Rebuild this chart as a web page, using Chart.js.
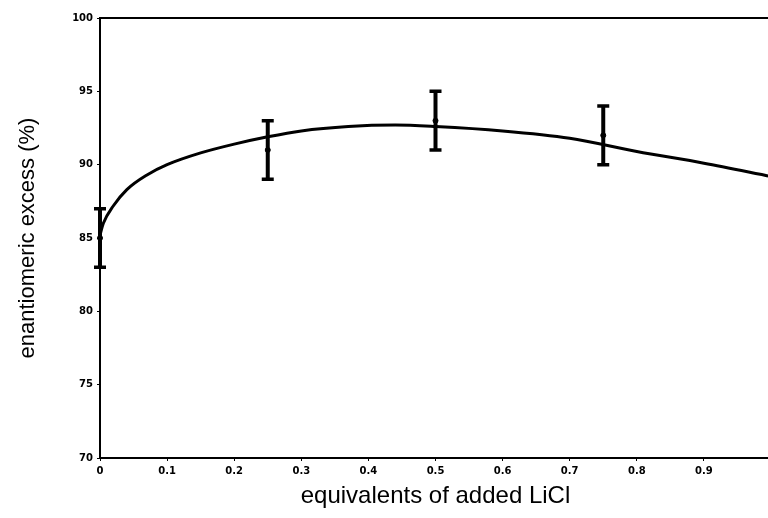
<!DOCTYPE html>
<html>
<head>
<meta charset="utf-8">
<script src="https://cdn.jsdelivr.net/npm/chart.js@4"></script>
<style>
  html, body { margin: 0; padding: 0; background: #fff; overflow: hidden; }
  #box { width: 776px; height: 518px; }
</style>
</head>
<body>
<div id="box"><canvas id="eeChart"></canvas></div>
<script>
// measured points with error bars
var licl = [0, 0.25, 0.5, 0.75];
var eeMean = [85, 91, 93, 92];
var eeLow = [83, 89, 91, 90];
var eeHigh = [87, 93, 95, 94];

// fitted curve
var fitX = [0, 0.005, 0.02, 0.04, 0.07, 0.1, 0.15, 0.2, 0.25, 0.3, 0.37, 0.44, 0.5, 0.6, 0.7, 0.8, 0.9, 1.0];
var fitY = [85.2, 86.0, 87.2, 88.3, 89.3, 90.0, 90.8, 91.4, 91.9, 92.3, 92.6, 92.7, 92.6, 92.3, 91.8, 90.9, 90.1, 89.2];

var yTicks = [70, 75, 80, 85, 90, 95, 100];
var xTicks = [0, 0.1, 0.2, 0.3, 0.4, 0.5, 0.6, 0.7, 0.8, 0.9];

var tickFont = { family: 'DejaVu Sans', size: 10, weight: 'bold' };

// error bars + frame, drawn through the chart scales
var errorBars = {
    id: 'errorBars',
    afterDatasetsDraw: function(chart) {
        var c = chart.ctx, xs = chart.scales.x, ys = chart.scales.y;
        var a = chart.chartArea;
        c.save();
        c.strokeStyle = '#000';
        c.lineWidth = 2;
        c.beginPath();
        c.moveTo(a.left, a.bottom);
        c.lineTo(a.left, a.top);
        c.lineTo(a.right, a.top);
        c.stroke();
        for (var i = 0; i < licl.length; i++) {
            var px = xs.getPixelForValue(licl[i]);
            var top = ys.getPixelForValue(eeHigh[i]);
            var bot = ys.getPixelForValue(eeLow[i]);
            c.lineWidth = 4;
            c.beginPath();
            c.moveTo(px, top);
            c.lineTo(px, bot);
            c.stroke();
            c.lineWidth = 3.5;
            c.beginPath();
            c.moveTo(px - 6, top); c.lineTo(px + 6, top);
            c.moveTo(px - 6, bot); c.lineTo(px + 6, bot);
            c.stroke();
        }
        c.restore();
    }
};

var ctx = document.getElementById('eeChart');

var eeChart = new Chart(ctx, {
    type: 'scatter',
    data: {
        datasets: [{
            label: 'fit',
            data: fitX.map(function(x, i) { return { x: x, y: fitY[i] }; }),
            showLine: true,
            borderColor: '#000',
            borderWidth: 3,
            pointRadius: 0,
            cubicInterpolationMode: 'monotone',
            fill: false
        }, {
            label: 'measured',
            data: licl.map(function(x, i) { return { x: x, y: eeMean[i] }; }),
            backgroundColor: '#000',
            borderColor: '#000',
            pointRadius: 2.5
        }]
    },
    options: {
        responsive: true,
        maintainAspectRatio: false,
        animation: false,
        clip: false,
        layout: { padding: { top: 18, right: 0, bottom: 0, left: 0 } },
        plugins: {
            legend: { display: false },
            tooltip: { enabled: false }
        },
        scales: {
            x: {
                type: 'linear',
                min: 0,
                max: 1.0,
                afterBuildTicks: function(axis) {
                    axis.ticks = xTicks.map(function(v) { return { value: v }; });
                },
                afterFit: function(axis) { axis.height = 60; },
                grid: { display: true, drawOnChartArea: false, color: '#000', tickLength: 3 },
                border: { display: true, color: '#000', width: 2 },
                ticks: {
                    color: '#000',
                    font: tickFont,
                    padding: 4,
                    maxRotation: 0,
                    callback: function(v) { return v === 0 ? '0' : v.toFixed(1); }
                },
                title: {
                    display: true,
                    text: 'equivalents of added LiCl',
                    color: '#000',
                    font: { family: 'Liberation Sans', size: 24 },
                    padding: { top: 0, bottom: 7 }
                }
            },
            y: {
                min: 70,
                max: 100,
                afterBuildTicks: function(axis) {
                    axis.ticks = yTicks.map(function(v) { return { value: v }; });
                },
                afterFit: function(axis) { axis.width = 100; },
                grid: { display: true, drawOnChartArea: false, color: '#000', tickLength: 3 },
                border: { display: true, color: '#000', width: 2 },
                ticks: { color: '#000', font: tickFont, padding: 4 },
                title: {
                    display: true,
                    text: 'enantiomeric excess (%)',
                    color: '#000',
                    font: { family: 'Liberation Sans', size: 22 },
                    padding: { top: 15, bottom: 0 }
                }
            }
        }
    },
    plugins: [errorBars]
});
</script>
</body>
</html>
